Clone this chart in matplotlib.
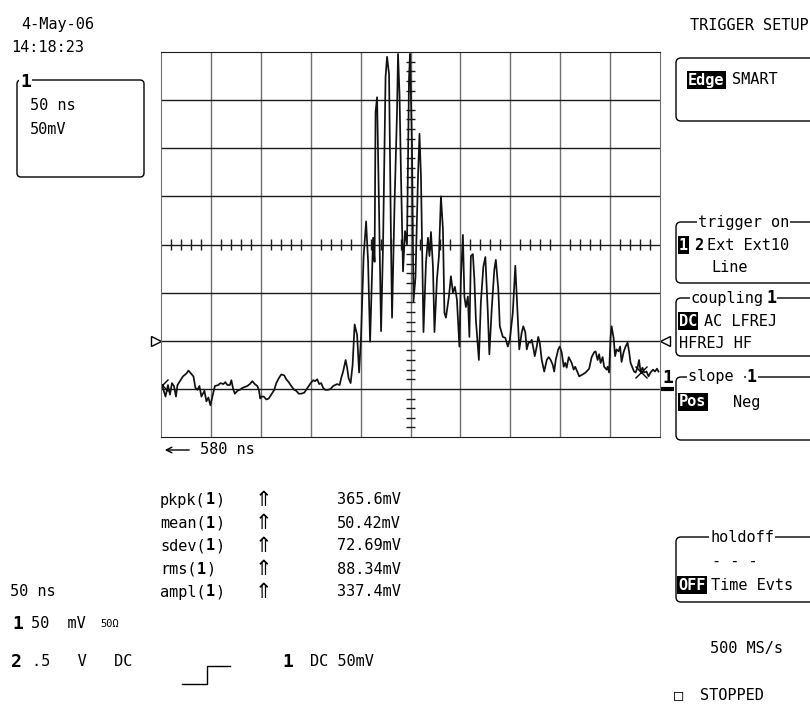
import numpy as np
import matplotlib.pyplot as plt
from matplotlib.patches import FancyBboxPatch

# Channel 1 trace: time from left edge (ns), volts above ground (mV)
time_ns = [1, 2.5, 4.5, 7, 9, 11, 13, 15, 16.5, 19, 22, 25.5, 27.5, 30, 32.5, 34.5, 36.5, 38.5,
           40.5, 43.5, 45.5, 47.5, 49.5, 51.5, 54, 57.5, 59.5, 62.5, 64.5, 66.5, 69, 70.5, 72.5,
           74, 76.5, 79, 81.5, 84, 86.5, 89, 91.5, 94, 96.5, 98, 99.5, 100.5, 103, 105.5, 108,
           110.5, 113.5, 115.5, 118, 120.5, 123.5, 125.5, 128, 130.5, 133.5, 135.5, 138, 140.5,
           143.5, 145.5, 148, 150, 152.5, 154.5, 156.5, 158.5, 160.5, 162.5, 164.5, 167.5, 170,
           172.5, 174.5, 176.5, 179, 180.5, 182.5, 185, 186.5, 188, 190, 192, 194, 196.5, 198.5,
           200.5, 203, 205.5, 207.5, 209.5, 212.5, 214, 215, 216.5, 218.5, 220.5, 222.5, 225,
           226.5, 228.5, 230.5, 231.5, 234, 236.5, 237.5, 239, 240.5, 242.5, 244.5, 246.5, 248.5,
           249.5, 251.5, 253, 255, 257.5, 259, 260.5, 263, 265.5, 267.5, 269, 270.5, 272.5, 274,
           276.5, 278.5, 280.5, 282.5, 284, 285.5, 288.5, 290.5, 292.5, 294.5, 296.5, 299, 300.5,
           302.5, 304, 305.5, 307.5, 309, 310.5, 312.5, 314, 315.5, 318.5, 320.5, 323, 325, 327.5,
           329, 331.5, 334, 335.5, 338, 339.5, 342.5, 345, 347.5, 349.5, 352.5, 355, 356.5, 359,
           361.5, 363, 365, 366.5, 368.5, 370, 371.5, 373, 374.5, 376.5, 378, 379.5, 381.5, 384,
           386.5, 388.5, 390.5, 392.5, 394, 395.5, 398, 399.5, 401.5, 403.5, 405, 406.5, 408.5,
           410, 411.5, 413.5, 415, 417.5, 419, 422.5, 425.5, 429, 431.5, 434, 435.5, 437.5, 439,
           440.5, 442.5, 444, 446.5, 447.5, 449, 450.5, 451.5, 453.5, 455, 456.5, 458.5, 460,
           461.5, 463.5, 465.5, 467.5, 469, 470.5, 472.5, 474, 475.5, 477.5, 479, 480.5, 482.5,
           484, 486.5, 488.5, 490.5, 493, 495, 497, 498.5]
signal_mv = [4, -1, -8, 4, -6, 6, 3, -8, 4, 8, 13, 16, 19, 16, 13, 1, -1, 3,
             -8, -2, -13, -9, -17, -8, 3, 4, 6, 5, 7, 4, 4, 9, -1,
             -5, -2, -1, 1, 2, 3, 5, 8, 5, 3, -1, -10, -8, -8, -11, -10,
             -6, -1, 6, 11, 15, 14, 10, 7, 3, -1, -2, -5, -5,
             -4, -1, 3, 6, 9, 8, 10, 5, 6, 1, -1, -1, 0,
             3, 4, 5, 4, 11, 18, 30, 22, 11, 6, 25, 67, 56, 17,
             56, 137, 174, 132, 49, 157, 132, 288, 303, 185, 60, 150, 324,
             345, 327, 150, 74, 192, 288, 348, 306, 220, 122, 164, 150, 322,
             348, 254, 91, 116, 220, 265, 220, 59, 131, 157, 138, 163, 127, 59,
             114, 138, 200, 166, 79, 74, 96, 117, 100, 106, 93, 44, 114,
             160, 96, 85, 96, 54, 138, 140, 114, 72, 30, 90, 127, 137, 79,
             36, 85, 124, 134, 103, 65, 54, 53, 44, 51, 79, 128, 96, 41,
             59, 65, 59, 41, 49, 48, 51, 43, 34, 44, 54, 48, 30, 18,
             30, 33, 30, 25, 18, 30, 41, 44, 38, 23, 27, 22, 33,
             30, 27, 20, 23, 17, 13, 15, 17, 21, 33, 38, 39, 30, 36,
             27, 33, 23, 20, 23, 17, 54, 65, 53, 34, 41, 39, 44,
             28, 38, 44, 48, 39, 27, 22, 18, 17, 22, 30, 18, 22,
             17, 18, 13, 17, 20, 18, 21, 18]

ns_per_div = 50
mv_per_div = 50
trigger_mv = 50
cursor_ns = [1, 480.5]

meas_names = ["pkpk", "mean", "sdev", "rms", "ampl"]
meas_values = ["365.6mV", "50.42mV", "72.69mV", "88.34mV", "337.4mV"]

W, H = 810, 706
MONO = ['DejaVu Sans Mono', 'DejaVu Sans']
FS = 11
CW = 0.602 * FS * 100 / 72  # width of one mono character in pixels

fig = plt.figure(figsize=(W / 100, H / 100), dpi=100)
ov = fig.add_axes([0, 0, 1, 1])
ov.set_xlim(0, W)
ov.set_ylim(H, 0)
ov.axis('off')


def label(x, y, s, size=FS, bold=False, inv=False, bg=False):
    box = None
    if inv:
        box = dict(boxstyle='square,pad=0.08', fc='black', ec='none')
    elif bg:
        box = dict(boxstyle='square,pad=0.05', fc='white', ec='none')
    ov.text(x, y, s, fontsize=size, family=MONO, weight='bold' if bold else 'normal',
            color='white' if inv else 'black', ha='left', va='center', bbox=box)


def panel(y0, y1, x0=676):
    ov.add_patch(FancyBboxPatch((x0, y0), 200, y1 - y0,
                                boxstyle='round,pad=0,rounding_size=5',
                                fc='none', ec='black', lw=1))


# ---- scope screen ----
scope = fig.add_axes([161 / W, 1 - 437 / H, 499 / W, 385 / H])
scope.set_xlim(0, 10 * ns_per_div)
scope.set_ylim(-mv_per_div, 7 * mv_per_div)
scope.set_xticks([])
scope.set_yticks([])
for side in ['left', 'right']:
    scope.spines[side].set_color('#707070')
for side in ['top', 'bottom']:
    scope.spines[side].set_color('#1a1a1a')

for t in range(ns_per_div, 10 * ns_per_div, ns_per_div):
    scope.axvline(t, color='#707070', lw=1)
for v in range(0, 7 * mv_per_div, mv_per_div):
    scope.axhline(v, color='#1a1a1a', lw=1)

# minor ticks on the centre cross
cx, cy = 5 * ns_per_div, 3 * mv_per_div
tx = [t for t in range(10, 500, 10) if t % ns_per_div]
ty = [v for v in range(-40, 350, 10) if v % mv_per_div]
scope.vlines(tx, cy - 5.5, cy + 5.5, color='#1a1a1a', lw=1)
scope.hlines(ty, cx - 4.5, cx + 4.5, color='#1a1a1a', lw=1)

scope.plot(time_ns, signal_mv, color='#111111', lw=1.25)

# trace cursors
cur_y = [signal_mv[int(np.argmin(np.abs(np.array(time_ns) - c)))] for c in cursor_ns]
scope.plot(cursor_ns, cur_y, 'x', color='black', ms=9, mew=1)

# trigger level and ground markers
scope.plot([-5], [trigger_mv], marker='>', ms=7, mfc='white', mec='black', clip_on=False)
scope.plot([505], [trigger_mv], marker='<', ms=7, mfc='white', mec='black', clip_on=False)
scope.plot([500, 514], [0, 0], color='black', lw=3, clip_on=False, solid_capstyle='butt')
scope.text(502, 2, '1', fontsize=13, family=MONO, weight='bold', ha='left', va='bottom',
           clip_on=False)

# ---- top left ----
label(21, 25, '4-May-06')
label(11, 47, '14:18:23')
ov.add_patch(FancyBboxPatch((17, 80), 127, 97, boxstyle='round,pad=0,rounding_size=4',
                            fc='none', ec='black', lw=1))
label(20, 82, '1', size=13, bold=True, bg=True)
label(30, 106, '50 ns')
label(30, 129, '50mV')

# ---- under the screen ----
ov.annotate('', xy=(162, 450), xytext=(192, 450),
            arrowprops=dict(arrowstyle='->', color='black', lw=1))
label(200, 450, '580 ns')

rows_y = [500, 523, 546, 569, 592]
for name, val, y in zip(meas_names, meas_values, rows_y):
    n = len(name)
    label(160, y, name + '(')
    label(160 + (n + 1) * CW, y, '1', bold=True)
    label(160 + (n + 2) * CW, y, ')')
    ov.text(263, y, '\u21d1', fontsize=15, family=['DejaVu Sans'], ha='center', va='center')
    ov.text(401, y, val, fontsize=FS, family=MONO, ha='right', va='center')

label(10, 592, '50 ns')
label(12, 624, '1', size=13, bold=True)
label(31, 624, '50  mV')
label(100, 624, '50\u03a9', size=7.5)
label(11, 662, '2', size=13, bold=True)
label(32, 662, '.5   V   DC')
ov.plot([182, 207, 207, 230], [684, 684, 666, 666], color='black', lw=1)
label(282, 662, '1', size=13, bold=True)
label(310, 662, 'DC 50mV')

# ---- trigger menu on the right ----
label(690, 25, 'TRIGGER SETUP')

panel(58, 121)
label(688, 80, 'Edge', bold=True, inv=True)
label(732, 80, 'SMART')

panel(222, 283)
label(698, 222, 'trigger on', bg=True)
label(679, 245, '1', bold=True, inv=True)
label(694, 245, '2', bold=True)
label(707, 245, 'Ext Ext10')
label(711, 267, 'Line')

panel(298, 356)
label(691, 298, 'coupling', bg=True)
label(766, 298, '1', size=12, bold=True, bg=True)
label(679, 321, 'DC', bold=True, inv=True)
label(704, 321, 'AC LFREJ')
label(679, 344, 'HFREJ HF')

panel(377, 440)
label(688, 377, 'slope ', bg=True)
label(747, 377, '1', size=12, bold=True, bg=True)
label(679, 402, 'Pos', bold=True, inv=True)
label(733, 402, 'Neg')

panel(537, 602)
label(710, 537, 'holdoff', bg=True)
label(712, 562, '- - -')
label(678, 585, 'OFF', bold=True, inv=True)
label(711, 585, 'Time Evts')

label(710, 648, '500 MS/s')
label(674, 695, '\u25a1')
label(700, 695, 'STOPPED')

fig.savefig('out.png', dpi=100, facecolor='white')
